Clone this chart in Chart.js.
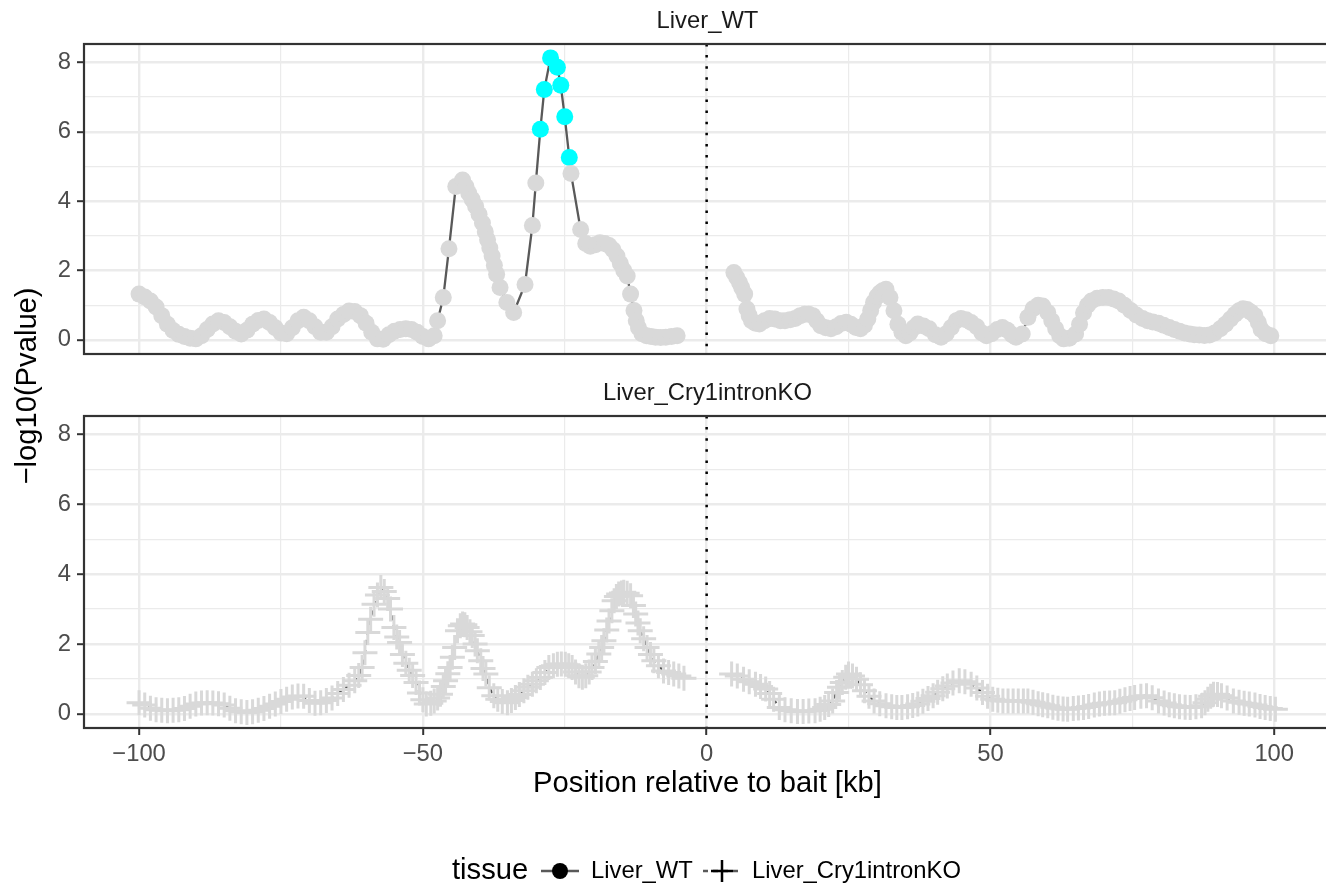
<!DOCTYPE html>
<html>
<head>
<meta charset="utf-8">
<script src="https://cdn.jsdelivr.net/npm/chart.js@4.4.1/dist/chart.umd.min.js"></script>
<style>
html,body{margin:0;padding:0;background:#ffffff;width:1326px;height:883px;overflow:hidden;}
canvas{position:absolute;left:0;top:0;}
</style>
</head>
<body>
<canvas id="topPanel" width="1415" height="883" style="width:1415px;height:883px"></canvas>
<canvas id="botPanel" width="1415" height="883" style="width:1415px;height:883px"></canvas>
<script>
// ---------------- data ----------------
const panelNames = ['Liver_WT', 'Liver_Cry1intronKO'];
const xTitle = 'Position relative to bait [kb]';
const yTitle = '\u2212log10(Pvalue)';
const legendTitle = 'tissue';
const legendLabels = ['Liver_WT', 'Liver_Cry1intronKO'];

const xTickValues = [-100, -75, -50, -25, 0, 25, 50, 75, 100];
const xTickLabels = [-100, -50, 0, 50, 100];
const yTickValues = [0, 1, 2, 3, 4, 5, 6, 7, 8];
const yTickLabels = [0, 2, 4, 6, 8];
const sigThreshold = 5;   // points above are highlighted (cyan)
const baitPosition = 0;

// Liver_WT : x positions (kb) and -log10(P)  (null = gap around the bait)
const wtX = [-100,-99,-98,-97,-96,-95,-94,-93,-92,-91,-90,-89,-88,-87,-86,-85,-84,-83,-82,-81,
 -80,-79,-78,-77,-76,-75,-74,-73,-72,-71,-70,-69,-68,-67,-66,-65,-64,-63,-62,-61,
 -60,-59,-58,-57,-56,-55,-54,-53,-52,-51,-50,-49,-48,-47.4,-46.4,-45.4,-44.2,-43.0,
 -42.4,-41.9,-41.3,-40.7,-40.1,-39.5,-39.0,-38.6,-38.2,-37.8,-37.4,-37.0,-36.4,-35.2,-34.0,
 -32.0,-30.7,-30.1,-29.3,-28.6,-27.5,-26.3,-25.7,-25.0,-24.2,-23.9,-22.2,
 -21.3,-20.5,-19.6,-18.8,-18.0,-17.2,-16.5,-15.8,-15.2,-14.6,-14.0,-13.4,
 -12.8,-12.4,-12.0,-11.4,-10.6,-9.8,-9.0,-8.1,-7.2,-6.2,-5.2,
 0,
 4.8,5.3,5.8,6.2,6.7,7.1,7.5,7.9,8.6,9.3,10.2,11.1,12.0,13.0,13.8,14.7,15.6,16.5,17.3,18.0,
 18.7,19.4,20.1,21.0,21.9,22.8,23.7,24.6,25.4,26.3,27.1,27.8,28.4,28.9,29.4,30.0,30.5,31.0,31.6,32.3,
 33.0,33.7,34.4,35.1,35.8,36.5,37.2,38.2,39.2,40.3,41.3,42.2,43.1,44.0,44.8,45.7,46.6,47.6,48.5,49.3,
 50.2,51.2,52.1,53.0,53.8,54.5,55.6,56.6,57.5,58.4,59.2,60.1,60.8,61.5,62.2,62.9,63.9,65.0,65.7,66.4,
 67.1,67.8,68.8,69.8,70.8,71.7,72.6,73.6,74.7,75.7,76.8,77.7,78.6,79.6,80.5,81.5,82.4,83.3,84.2,85.1,
 85.9,86.8,87.7,88.6,89.5,90.5,91.4,92.3,93.1,93.8,94.5,95.2,95.9,96.6,97.2,97.7,98.5,99.4];
const wtY = [1.32,1.24,1.12,0.95,0.70,0.45,0.27,0.16,0.10,0.05,0.03,0.12,0.30,0.46,0.55,0.50,0.38,0.25,0.17,0.28,
 0.45,0.56,0.60,0.50,0.35,0.20,0.18,0.35,0.55,0.65,0.55,0.38,0.22,0.22,0.38,0.60,0.73,0.83,0.82,0.70,
 0.48,0.22,0.03,0.02,0.15,0.25,0.30,0.32,0.30,0.22,0.10,0.03,0.12,0.55,1.22,2.63,4.42,4.61,
 4.42,4.23,4.05,3.85,3.62,3.37,3.12,2.89,2.65,2.42,2.15,1.89,1.51,1.08,0.79,
 1.60,3.30,4.52,6.07,7.22,8.13,7.86,7.34,6.43,5.26,4.80,3.18,
 2.78,2.70,2.74,2.80,2.78,2.72,2.60,2.42,2.20,2.00,1.84,1.32,
 0.85,0.55,0.35,0.18,0.12,0.10,0.08,0.07,0.08,0.10,0.12,
 null,
 1.94,1.80,1.65,1.50,1.32,0.89,0.70,0.55,0.48,0.46,0.55,0.62,0.60,0.55,0.55,0.58,0.62,0.70,0.74,0.74,
 0.70,0.55,0.41,0.35,0.32,0.38,0.47,0.51,0.45,0.36,0.32,0.42,0.60,0.85,1.08,1.25,1.35,1.42,1.46,1.22,
 0.84,0.45,0.22,0.12,0.20,0.35,0.46,0.40,0.32,0.15,0.08,0.18,0.36,0.55,0.62,0.58,0.50,0.38,0.20,0.12,
 0.18,0.30,0.36,0.28,0.15,0.08,0.17,0.65,0.90,1.00,0.98,0.79,0.55,0.32,0.12,0.03,0.05,0.17,0.45,0.78,
 1.00,1.12,1.20,1.22,1.22,1.18,1.12,1.00,0.85,0.72,0.62,0.55,0.52,0.48,0.42,0.36,0.30,0.25,0.20,0.17,
 0.15,0.14,0.13,0.14,0.20,0.32,0.45,0.60,0.74,0.84,0.90,0.88,0.80,0.70,0.50,0.30,0.18,0.12];

// Liver_Cry1intronKO
const koX = [-100,-99,-98,-97,-96,-95,-94,-93,-92,-91,-90,-89,-88,-87,-86,-85,-84,-83,-82,-81,
 -80,-79,-78,-77,-76,-75,-74,-73,-72,-71,-70,-69,-68,-67,-66,-65,-64,-63,-62,
 -61.3,-60.7,-60.2,-59.7,-59.2,-58.6,-58.0,-57.4,-56.8,-56.2,
 -55.7,-55.1,-54.6,-54.1,-53.6,-53.0,-52.4,-51.8,-51.2,-50.6,
 -50.0,-49.4,-48.6,-48.0,-47.4,-46.9,-46.4,-46.0,-45.6,-45.2,
 -44.8,-44.4,-43.9,-43.4,-43.0,-42.6,-42.2,-41.7,-41.3,-40.8,
 -40.4,-39.8,-39.4,-38.9,-38.3,-37.5,-36.8,-36.0,-35.1,-34.4,
 -33.7,-33.0,-32.2,-31.5,-30.7,-30.0,-29.3,-28.5,-27.8,-27.0,
 -26.3,-25.6,-24.9,-24.3,-23.7,-23.1,-22.5,-21.9,-21.3,-20.7,
 -20.2,-19.6,-19.0,-18.5,-18.1,-17.6,-17.2,-16.7,-16.3,-15.9,
 -15.5,-15.0,-14.6,-14.0,-13.4,-12.9,-12.5,-12.1,-11.7,-11.1,
 -10.5,-9.9,-9.3,-8.5,-7.6,-6.7,-5.8,-4.9,-4.0,
 0,
 4.4,5.4,6.5,7.5,8.6,9.5,10.4,11.1,11.8,12.8,
 13.8,14.9,16.0,17.0,18.0,19.1,20.0,20.8,21.5,22.2,
 22.9,23.4,23.9,24.5,25.0,25.7,26.4,27.1,27.8,28.6,
 29.5,30.5,31.6,32.6,33.5,34.4,35.4,36.3,37.2,38.1,
 39.0,39.9,40.7,41.6,42.4,43.4,44.5,45.5,46.6,47.6,
 48.6,49.5,50.4,51.3,52.2,53.1,54.0,54.9,55.8,56.6,
 57.5,58.4,59.2,60.1,61.0,61.9,62.8,63.6,64.6,65.5,
 66.4,67.3,68.3,69.2,70.1,71.0,71.9,72.8,73.7,74.6,
 75.4,76.5,77.5,78.5,79.6,80.6,81.5,82.4,83.3,84.3,
 85.2,86.2,87.2,87.8,88.3,88.8,89.3,90.0,90.7,91.7,
 92.8,93.8,94.7,95.6,96.6,97.5,98.4,99.3,100.2];
const koY = [0.32,0.25,0.16,0.12,0.10,0.09,0.10,0.12,0.15,0.22,0.28,0.31,0.32,0.31,0.29,0.25,0.16,0.09,0.06,0.04,
 0.06,0.10,0.15,0.22,0.28,0.35,0.42,0.48,0.51,0.50,0.38,0.30,0.32,0.38,0.45,0.58,0.70,0.82,0.95,
 1.10,1.33,1.75,2.33,2.71,3.14,3.40,3.62,3.50,3.30,
 3.00,2.47,2.20,2.04,1.70,1.45,1.25,1.10,0.90,0.60,
 0.40,0.28,0.30,0.37,0.45,0.56,0.78,0.95,1.15,1.33,
 1.62,1.90,2.38,2.52,2.57,2.55,2.47,2.35,2.24,2.00,
 1.81,1.52,1.30,1.14,0.75,0.52,0.42,0.35,0.32,0.38,
 0.47,0.55,0.66,0.76,0.85,0.95,1.04,1.18,1.33,1.38,
 1.42,1.43,1.42,1.38,1.33,1.20,1.09,1.05,1.09,1.20,
 1.33,1.50,1.71,1.90,2.09,2.40,2.66,2.95,3.24,3.36,
 3.43,3.46,3.48,3.45,3.38,3.10,2.86,2.60,2.38,2.15,
 1.90,1.70,1.52,1.38,1.23,1.18,1.14,1.08,1.02,
 null,
 1.14,1.08,0.99,0.92,0.85,0.78,0.71,0.58,0.42,0.18,
 0.12,0.09,0.07,0.07,0.08,0.09,0.13,0.18,0.27,0.37,
 0.61,0.76,0.90,1.05,1.14,1.08,0.99,0.83,0.66,0.50,
 0.37,0.29,0.23,0.20,0.18,0.18,0.20,0.24,0.28,0.36,
 0.44,0.52,0.62,0.72,0.80,0.88,0.95,0.92,0.85,0.74,
 0.61,0.50,0.42,0.39,0.37,0.37,0.37,0.37,0.37,0.37,
 0.33,0.29,0.26,0.23,0.19,0.16,0.14,0.13,0.15,0.17,
 0.18,0.21,0.25,0.28,0.30,0.31,0.32,0.36,0.40,0.44,
 0.47,0.50,0.52,0.46,0.37,0.31,0.26,0.23,0.20,0.19,
 0.18,0.20,0.23,0.32,0.42,0.50,0.56,0.55,0.52,0.45,
 0.37,0.33,0.30,0.28,0.25,0.21,0.18,0.15,0.13];

// ---------------- styling ----------------
const FONT = "'Liberation Sans', Arial, Helvetica, sans-serif";
const SMALL = 23.8, BIG = 29.2;
const X_MIN = -109.7, X_MAX = 110;
const Y_MIN = -0.406, Y_MAX = 8.53;
const GRID = '#ebebeb';
const DARK = '#333333';
const POINT_GREY = '#d9d9d9';
const LINE_GREY = '#595959';
const HIGHLIGHT = '#00ffff';

const fmt = v => (v < 0 ? '\u2212' + Math.abs(v) : String(v));

function xScale(show) {
  return {
    type: 'linear', min: X_MIN, max: X_MAX,
    afterBuildTicks: s => { s.ticks = xTickValues.map(v => ({ value: v })); },
    ticks: {
      display: show, autoSkip: false, maxRotation: 0, minRotation: 0, padding: 5,
      color: '#4d4d4d', font: { family: FONT, size: SMALL },
      callback: v => (xTickLabels.includes(v) ? fmt(v) : '')
    },
    grid: {
      color: GRID,
      lineWidth: c => (c.tick && xTickLabels.includes(c.tick.value) ? 2.4 : 1.2),
      drawTicks: show, tickLength: 7, tickWidth: 2,
      tickColor: c => (c.tick && xTickLabels.includes(c.tick.value) ? DARK : 'rgba(0,0,0,0)')
    },
    border: { display: false },
    title: show ? {
      display: true, text: xTitle, color: '#000000',
      font: { family: FONT, size: BIG }, padding: { top: 0, bottom: 6.5 }
    } : { display: false },
    afterFit: s => { s.height = show ? 80 : 0; s.paddingLeft = 0; s.paddingRight = 0; }
  };
}
function yScale() {
  return {
    type: 'linear', min: Y_MIN, max: Y_MAX,
    afterBuildTicks: s => { s.ticks = yTickValues.map(v => ({ value: v })); },
    ticks: {
      padding: 6, color: '#4d4d4d', font: { family: FONT, size: SMALL },
      callback: v => (yTickLabels.includes(v) ? String(v) : '')
    },
    grid: {
      color: GRID,
      lineWidth: c => (c.tick && yTickLabels.includes(c.tick.value) ? 2.4 : 1.2),
      drawTicks: true, tickLength: 7, tickWidth: 2,
      tickColor: c => (c.tick && yTickLabels.includes(c.tick.value) ? DARK : 'rgba(0,0,0,0)')
    },
    border: { display: false },
    afterFit: s => { s.width = 84; s.paddingTop = 0; s.paddingBottom = 0; }
  };
}

const panelDeco = {
  id: 'panelDeco',
  afterDatasetsDraw(chart) {
    const { ctx, chartArea: a, scales } = chart;
    const x0 = scales.x.getPixelForValue(baitPosition);
    ctx.save();
    ctx.strokeStyle = '#000000';
    ctx.lineWidth = 2.5;
    ctx.setLineDash([2.5, 8.6]);
    ctx.beginPath();
    ctx.moveTo(x0, a.top);
    ctx.lineTo(x0, a.bottom);
    ctx.stroke();
    ctx.setLineDash([]);
    ctx.strokeStyle = DARK;
    ctx.lineWidth = 2.2;
    ctx.strokeRect(a.left, a.top, a.right - a.left, a.bottom - a.top);
    ctx.restore();
  }
};

const outerText = {
  id: 'outerText',
  afterDraw(chart) {
    const ctx = chart.ctx;
    ctx.save();
    // shared y-axis title
    ctx.translate(27.5, 386);
    ctx.rotate(-Math.PI / 2);
    ctx.fillStyle = '#000000';
    ctx.font = BIG + 'px ' + FONT;
    ctx.textAlign = 'center';
    ctx.textBaseline = 'middle';
    ctx.fillText(yTitle, 0, 0);
    ctx.restore();

    // legend
    const ly = 871;
    ctx.save();
    ctx.fillStyle = '#000000';
    ctx.textBaseline = 'middle';
    ctx.textAlign = 'left';
    ctx.font = BIG + 'px ' + FONT;
    ctx.fillText(legendTitle, 452, ly);
    // key 1: solid line + dot
    ctx.strokeStyle = LINE_GREY; ctx.lineWidth = 2.5;
    ctx.beginPath(); ctx.moveTo(541, ly); ctx.lineTo(579, ly); ctx.stroke();
    ctx.fillStyle = '#000000';
    ctx.beginPath(); ctx.arc(560, ly, 8, 0, Math.PI * 2); ctx.fill();
    ctx.font = SMALL + 'px ' + FONT;
    ctx.fillText(legendLabels[0], 591, ly);
    // key 2: dashed line + cross
    ctx.strokeStyle = LINE_GREY; ctx.lineWidth = 2.5; ctx.setLineDash([5, 5]);
    ctx.beginPath(); ctx.moveTo(703, ly); ctx.lineTo(742, ly); ctx.stroke();
    ctx.setLineDash([]);
    ctx.strokeStyle = '#000000'; ctx.lineWidth = 2.5;
    ctx.beginPath();
    ctx.moveTo(711, ly); ctx.lineTo(733, ly);
    ctx.moveTo(722, ly - 11); ctx.lineTo(722, ly + 11);
    ctx.stroke();
    ctx.fillText(legendLabels[1], 752, ly);
    ctx.restore();
  }
};

function toPoints(xs, ys) { return xs.map((x, i) => ({ x: x, y: ys[i] })); }

function titleOpts(text) {
  return {
    display: true, text: text, color: '#1a1a1a', fullSize: false,
    font: { family: FONT, size: SMALL, weight: 'normal' },
    padding: { top: 7.5, bottom: 7.94 }
  };
}

Chart.defaults.font.family = FONT;

new Chart(document.getElementById('topPanel'), {
  type: 'line',
  data: {
    datasets: [{
      label: panelNames[0],
      data: toPoints(wtX, wtY),
      borderColor: LINE_GREY,
      borderWidth: 2.3,
      tension: 0,
      spanGaps: false,
      pointRadius: 8.5,
      pointHoverRadius: 8.5,
      pointBorderWidth: 0,
      pointBackgroundColor: c => (c.raw && c.raw.y > sigThreshold ? HIGHLIGHT : POINT_GREY)
    }]
  },
  options: {
    responsive: false, animation: false, events: [], devicePixelRatio: 1,
    layout: { padding: { left: 0, right: 84, top: 0, bottom: 529 } },
    plugins: { legend: { display: false }, tooltip: { enabled: false }, title: titleOpts(panelNames[0]) },
    scales: { x: xScale(false), y: yScale() }
  },
  plugins: [panelDeco]
});

new Chart(document.getElementById('botPanel'), {
  type: 'line',
  data: {
    datasets: [{
      label: panelNames[1],
      data: toPoints(koX, koY),
      borderColor: LINE_GREY,
      borderWidth: 2.2,
      borderDash: [5, 5],
      tension: 0,
      spanGaps: false,
      pointStyle: 'cross',
      pointRadius: 12.5,
      pointHoverRadius: 12.5,
      pointBorderWidth: 3,
      pointBorderColor: POINT_GREY,
      pointBackgroundColor: POINT_GREY
    }]
  },
  options: {
    responsive: false, animation: false, events: [], devicePixelRatio: 1,
    layout: { padding: { left: 0, right: 84, top: 372, bottom: 75 } },
    plugins: { legend: { display: false }, tooltip: { enabled: false }, title: titleOpts(panelNames[1]) },
    scales: { x: xScale(true), y: yScale() }
  },
  plugins: [panelDeco, outerText]
});
</script>
</body>
</html>
